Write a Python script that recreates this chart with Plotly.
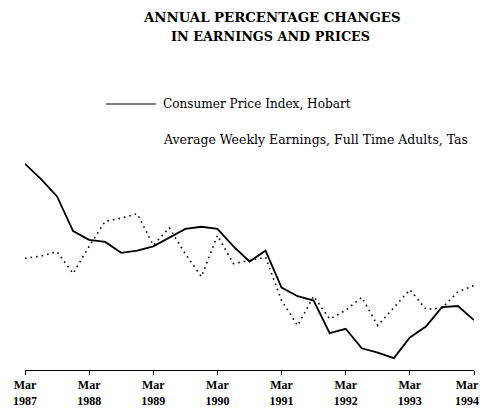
import plotly.graph_objects as go

# Quarterly observations, Mar 1987 .. Mar 1994 (annual % change)
quarters = list(range(29))
cpi_hobart = [9.5, 8.8, 8.0, 6.4, 6.0, 5.9, 5.4, 5.5, 5.7, 6.1, 6.5, 6.6, 6.5,
              5.7, 5.0, 5.5, 3.8, 3.4, 3.2, 1.7, 1.9, 1.0, 0.8, 0.55, 1.5, 2.0,
              2.9, 2.95, 2.3]
awe_tas = [5.15, 5.25, 5.45, 4.45, 5.7, 6.85, 7.0, 7.2, 5.75, 6.55, 5.35, 4.3,
           6.2, 4.9, 5.05, 5.2, 3.2, 2.05, 3.4, 2.35, 2.75, 3.35, 2.05, 2.9,
           3.7, 2.8, 2.85, 3.6, 3.9]
tick_positions = [0, 4, 8, 12, 16, 20, 24, 28]
tick_months = ["Mar"] * 8
tick_years = ["1987", "1988", "1989", "1990", "1991", "1992", "1993", "1994"]
series_names = ["Consumer Price Index, Hobart",
                "Average Weekly Earnings, Full Time Adults, Tas"]
title_lines = ["ANNUAL PERCENTAGE CHANGES", "IN EARNINGS AND PRICES"]

tick_labels = ["<b>%s</b><br><b>%s</b>" % (m, y) for m, y in zip(tick_months, tick_years)]

# the page body adds an 8px margin; work in page pixel coordinates
OFF = 8
W, H = 488 - OFF, 412 - OFF
X0, X1 = 25, 474          # page x of first/last quarter
YB, YT = 370, 60          # page y of axis line / top of plot area
ML = X0 - OFF
MR = W - (X1 - OFF)
MT = YT - OFF
MB = H - (YB - OFF)
PW, PH = X1 - X0, YB - YT

def px(xp):
    return (xp - X0) / PW

def py(yp):
    return (YB - yp) / PH

SERIF = "Liberation Serif, Times New Roman, serif"
WIDE_SERIF = "DejaVu Serif, serif"

fig = go.Figure()
fig.add_trace(go.Scatter(x=quarters, y=awe_tas, mode="lines", name=series_names[1],
                         line=dict(color="black", width=1.6, dash="1.6px,4px"),
                         showlegend=False))
fig.add_trace(go.Scatter(x=quarters, y=cpi_hobart, mode="lines", name=series_names[0],
                         line=dict(color="black", width=1.8),
                         showlegend=False))

# title
fig.add_annotation(text="<b>" + title_lines[0] + "</b>",
                   xref="paper", yref="paper", x=px(271), y=py(18),
                   xanchor="center", yanchor="middle", showarrow=False,
                   font=dict(family=WIDE_SERIF, size=13.3, color="black"))
fig.add_annotation(text="<b>" + title_lines[1] + "</b>",
                   xref="paper", yref="paper", x=px(270), y=py(37),
                   xanchor="center", yanchor="middle", showarrow=False,
                   font=dict(family=WIDE_SERIF, size=12.8, color="black"))

# legend (drawn manually)
fig.add_shape(type="line", xref="paper", yref="paper",
              x0=px(106), x1=px(156), y0=py(104), y1=py(104),
              line=dict(color="black", width=1))
fig.add_annotation(text=series_names[0], xref="paper", yref="paper",
                   x=px(161), y=py(104), xanchor="left", yanchor="middle",
                   showarrow=False, font=dict(family=WIDE_SERIF, size=12.1, color="black"))
fig.add_annotation(text=series_names[1], xref="paper", yref="paper",
                   x=px(161), y=py(139), xanchor="left", yanchor="middle",
                   showarrow=False, font=dict(family=WIDE_SERIF, size=12.5, color="black"))

# the last tick label sits at the page edge: draw it right-aligned so it stays visible
axis_ticktext = tick_labels[:-1] + [""]
fig.add_annotation(text=tick_labels[-1], xref="x", yref="paper",
                   x=tick_positions[-1], xanchor="right", xshift=6,
                   y=py(393), yanchor="middle", align="center", showarrow=False,
                   borderpad=0,
                   font=dict(family=SERIF, size=12, color="black"))

fig.update_layout(
    width=W, height=H,
    margin=dict(l=ML, r=MR, t=MT, b=MB, pad=0, autoexpand=False),
    paper_bgcolor="white", plot_bgcolor="white",
    xaxis=dict(range=[0, 28], tickvals=tick_positions, ticktext=axis_ticktext,
               automargin=False, ticklabeloverflow="allow",
               showline=True, linecolor="black", linewidth=1,
               ticks="outside", ticklen=4, tickcolor="black", tickwidth=1,
               showgrid=False, zeroline=False,
               tickfont=dict(family=SERIF, size=12, color="black")),
    yaxis=dict(range=[0, PH / 21.7], visible=False, automargin=False,
               showgrid=False, zeroline=False),
)

fig.write_html("out.html")
